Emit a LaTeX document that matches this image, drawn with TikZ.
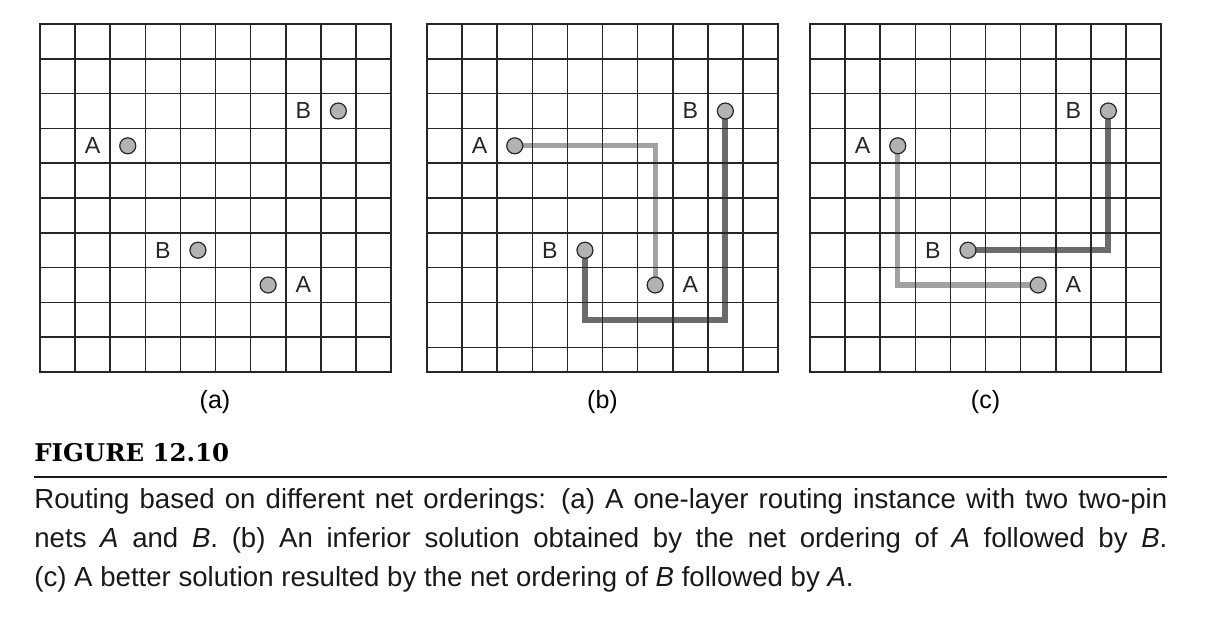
\documentclass[tikz,border=0pt]{standalone}
\usepackage{fontspec}
\setmainfont{Liberation Sans}
\newfontfamily\figfont{DejaVu Serif}
\usetikzlibrary{positioning,backgrounds}

\begin{document}
\begin{tikzpicture}[x=0.5pt,y=-0.5pt,
            font=\fontsize{12.5}{15}\selectfont,
            gridline/.style={line width=0.8pt,black!85,line cap=rect},
            pin/.style={circle,draw=black!85,fill=black!30,line width=0.6pt,
                minimum size=8pt,inner sep=0pt},
            pinlabel/.style={on grid,inner sep=0pt,text=black!85,
                font=\fontsize{11.6}{12}\selectfont},
            netA/.style={line width=2.6pt,black!37},
            netB/.style={line width=3pt,black!58},
        ]
        \useasboundingbox (0,0) rectangle (1209,623);
        % the three 10x10 routing grids
        \foreach \ox/\rows in {40/{0,...,10},427/{0,1,2,3,4,5,6,7,8,9.29,10},810/{0,...,10}}{
            \foreach \i in {0,...,10}
                \draw[gridline] ({\ox+35.1*\i},24) -- ({\ox+35.1*\i},372);
            \foreach \j in \rows
                \draw[gridline] (\ox,{24+34.8*\j}) -- ({\ox+351},{24+34.8*\j});
        }
        % pins and their labels
        \foreach \p/\ox in {a/40,b/427,c/810}{
            \node[pin] (\p A1) at ({\ox+35.1*2.5},{24+34.8*3.5}) {};
            \node[pin] (\p B1) at ({\ox+35.1*8.5},{24+34.8*2.5}) {};
            \node[pin] (\p B2) at ({\ox+35.1*4.5},{24+34.8*6.5}) {};
            \node[pin] (\p A2) at ({\ox+35.1*6.5},{24+34.8*7.5}) {};
            \node[pinlabel,left=17.55pt of \p A1] (\p lA1) {A};
            \node[pinlabel,left=17.55pt of \p B1] (\p lB1) {B};
            \node[pinlabel,left=17.55pt of \p B2] (\p lB2) {B};
            \node[pinlabel,right=17.55pt of \p A2] (\p lA2) {A};
        }
        % routed nets
        \coordinate (bBlow) at (0,{24+34.8*8.5});
        \begin{scope}[on background layer]
            \draw[netA] (bA1.center) -| (bA2.center);
            \draw[netB] (bB1.center) -- (bB1.center |- bBlow) -| (bB2.center);
            \draw[netA] (cA1.center) |- (cA2.center);
            \draw[netB] (cB1.center) |- (cB2.center);
        \end{scope}
        % sub captions
        \node (capa) at (215,402) {(a)};
        \node (capb) at (602.5,402) {(b)};
        \node (capc) at (985.5,402) {(c)};
        % figure caption
        \node[anchor=base west,inner sep=0pt,
            font=\figfont\bfseries\fontsize{12.2}{13}\selectfont] (fig) at (34,461.5) {FIGURE 12.10};
        \coordinate (ruleL) at (34,477);
        \coordinate (ruleR) at (1167,477);
        \draw[line width=1.2pt,black!90] (ruleL) -- (ruleR);
        \node[anchor=base west,inner sep=0pt,text width=566.5pt,align=justify,text=black!90,
            font=\fontsize{13.8}{19.5}\selectfont]
            (caption) at (34,508.5) {Routing based on different net orderings: (a) A one-layer routing
            instance with two two-pin\linebreak nets \textit{A} and \textit{B}. (b) An inferior
            solution obtained by the net ordering of \textit{A} followed by \textit{B}.\linebreak
            (c) A better solution resulted by the net ordering of \textit{B} followed by \textit{A}.};
\end{tikzpicture}
\end{document}
